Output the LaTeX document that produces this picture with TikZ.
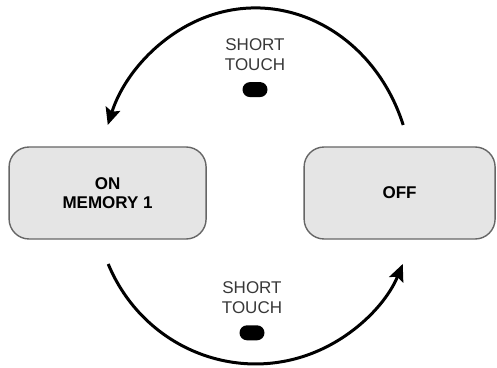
\documentclass[tikz,border=0pt]{standalone}
\usepackage{fontspec}
\setmainfont{Liberation Sans}
\usetikzlibrary{arrows.meta,positioning}

\begin{document}
\begin{tikzpicture}[x=1pt,y=1pt,node distance=35pt,
    mode/.style={draw=black!60,line width=1.4pt,fill=black!10,rounded corners=20pt,minimum height=92pt,align=center,font=\bfseries\fontsize{17}{19}\selectfont},
    touch/.style={align=center,text=black!78,font=\fontsize{17}{20}\selectfont},
    btn/.style={fill=black,rounded corners=7.5pt,minimum width=25pt,minimum height=15pt,inner sep=0pt},
    turn/.style={line width=3pt,-{Stealth[length=17pt,width=15pt,inset=3pt]}}]
  \useasboundingbox (0,0) rectangle (497,367);
  \node[mode,minimum width=197pt] (on) at (107.6,174) {ON\\MEMORY 1};
  \node[mode,minimum width=191pt,right of=on,node distance=292pt] (off) {OFF};
  \node[touch] (touch1) at (255,312.4) {SHORT\\TOUCH};
  \node[btn,below of=touch1] (btn1) {};
  \node[touch] (touch2) at (252,69.2) {SHORT\\TOUCH};
  \node[btn,below of=touch2] (btn2) {};
  \coordinate (a1) at (403.2,242);
  \coordinate (a2) at (108.2,103);
  \draw[turn] (a1) arc[start angle=19.8,end angle=160.2,x radius=157,y radius=177];
  \draw[turn] (a2) arc[start angle=203,end angle=337,x radius=160,y radius=164];
\end{tikzpicture}
\end{document}
